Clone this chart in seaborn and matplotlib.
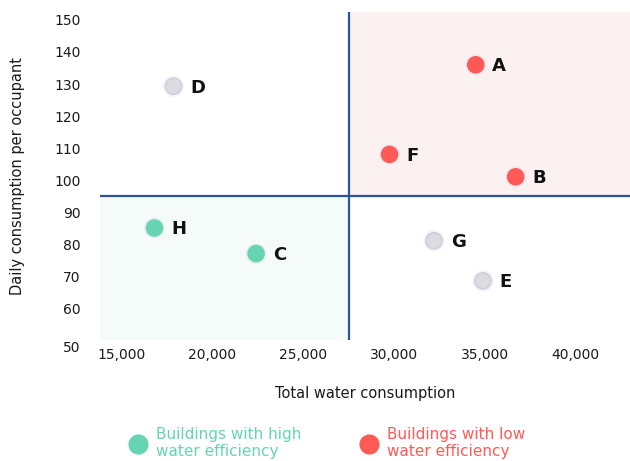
import matplotlib
matplotlib.use("Agg")
import matplotlib.pyplot as plt
import matplotlib.patheffects as pe
from matplotlib.lines import Line2D
from matplotlib.transforms import ScaledTranslation
import seaborn as sns
import pandas as pd

# Buildings: total water consumption vs daily consumption per occupant
buildings = ["A", "B", "C", "D", "E", "F", "G", "H"]
total_consumption = [34500, 36700, 22400, 17850, 34900, 29750, 32200, 16800]
daily_per_occupant = [136, 101, 77, 129.3, 68.5, 108, 81, 85]
efficiency = ["low", "low", "high", "neutral", "neutral", "low", "neutral", "high"]

# Quadrant thresholds
x_threshold = 27500
y_threshold = 95

x_ticks = [15000, 20000, 25000, 30000, 35000, 40000]
y_ticks = [50, 60, 70, 80, 90, 100, 110, 120, 130, 140, 150]

legend_labels = ["Buildings with high\nwater efficiency", "Buildings with low\nwater efficiency"]

GREEN = "#66D4B0"
RED = "#FF5A55"
GREY = "#DCDCDE"
BLUE = "#2C52A3"
palette = {"high": GREEN, "low": RED, "neutral": GREY}

df = pd.DataFrame({
    "building": buildings,
    "total": total_consumption,
    "daily": daily_per_occupant,
    "efficiency": efficiency,
})

sns.set_theme(style="white")
plt.rcParams["font.family"] = ["DejaVu Sans"]

fig = plt.figure(figsize=(6.3, 4.61), dpi=100)
ax = fig.add_axes([100 / 630, 1 - 340 / 461, 530 / 630, 328 / 461])

xmin, xmax = 13800, 43000
ymin, ymax = 50, 152.5
ax.set_xlim(xmin, xmax)
ax.set_ylim(ymin, ymax)

# Quadrant shading
ax.fill_between([x_threshold, xmax], y_threshold, ymax, color="#FCF1F1", zorder=0, linewidth=0)
ax.fill_between([xmin, x_threshold], ymin, y_threshold, color="#F4FBF8", zorder=0, linewidth=0)

# Quadrant dividers
ax.axvline(x_threshold, color=BLUE, linewidth=1.6, zorder=1)
ax.axhline(y_threshold, color=BLUE, linewidth=1.6, zorder=1)

sns.scatterplot(
    data=df, x="total", y="daily", hue="efficiency", palette=palette,
    s=135, linewidth=0, legend=False, ax=ax, zorder=3,
)
for coll in ax.collections:
    if hasattr(coll, "get_offsets") and len(coll.get_offsets()) == len(df):
        coll.set_edgecolors([("#CDCBE0" if e == "neutral" else palette[e]) for e in df["efficiency"]])
        coll.set_linewidths(1.0)
        coll.set_path_effects([pe.withStroke(linewidth=3.5, foreground="#B0B0C8", alpha=0.16)])

for _, row in df.iterrows():
    ax.annotate(row["building"], (row["total"], row["daily"]),
                xytext=(12, -1), textcoords="offset points",
                ha="left", va="center", fontsize=13, fontweight="bold",
                color="#111111", zorder=4)

ax.set_xticks(x_ticks)
ax.set_xticklabels([f"{v:,}" for v in x_ticks])
ax.set_yticks(y_ticks)
ax.set_yticklabels([str(v) for v in y_ticks])
ax.tick_params(axis="both", length=0, labelsize=10, labelcolor="#1a1a1a")
ax.tick_params(axis="y", pad=14)
ax.tick_params(axis="x", pad=6)

# Lowest y label sits slightly below the plot floor
ylabels = ax.get_yticklabels()
ylabels[0].set_transform(ylabels[0].get_transform() + ScaledTranslation(0, -5 / 72, fig.dpi_scale_trans))

for s in ax.spines.values():
    s.set_visible(False)
ax.grid(False)

ax.set_xlabel("Total water consumption", fontsize=10.5, color="#1a1a1a", labelpad=17)
ax.set_ylabel("Daily consumption per occupant", fontsize=10.5, color="#1a1a1a", labelpad=21)

handles = [
    Line2D([], [], marker="o", linestyle="none", markersize=14.5, markerfacecolor=GREEN, markeredgewidth=0),
    Line2D([], [], marker="o", linestyle="none", markersize=14.5, markerfacecolor=RED, markeredgewidth=0),
]
leg = fig.legend(handles, legend_labels, loc="center left",
                 bbox_to_anchor=(128 / 630, 1 - 443 / 461), ncol=2, frameon=False,
                 fontsize=11, handlelength=1.35, handletextpad=0.5, columnspacing=3.75,
                 borderpad=0, borderaxespad=0)
for txt, col in zip(leg.get_texts(), [GREEN, RED]):
    txt.set_color(col)
    txt.set_linespacing(1.15)

fig.savefig("out.png", dpi=100)
